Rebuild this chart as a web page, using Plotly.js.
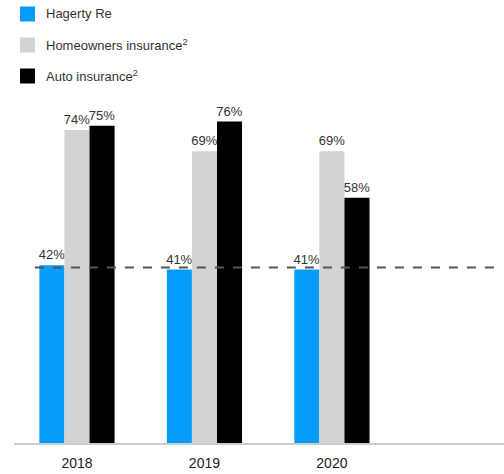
<!DOCTYPE html>
<html><head><meta charset="utf-8">
<script src="https://cdn.plot.ly/plotly-3.0.1.min.js"></script>
<style>html,body{margin:0;padding:0;background:#fff}#chart{width:504px;height:474px}</style>
</head><body><div id="chart"></div>
<script>
const years = ["2018", "2019", "2020"];
const seriesNames = ["Hagerty Re", "Homeowners insurance<sup>2</sup>", "Auto insurance<sup>2</sup>"];
const hagerty = [42, 41, 41];
const homeowners = [74, 69, 69];
const auto = [75, 76, 58];
const refLine = 41.5;
const colors = ["#079CFA", "#D3D3D3", "#000000"];

const W = 504, H = 474, mL = 14, mR = 0, mT = 20, mB = 31;
const pw = W - mL - mR, ph = H - mT - mB;
const px = x => (x - mL) / pw;
const py = y => (H - mB - y) / ph;
const FONT = "Liberation Sans, Arial, sans-serif";

const values = [hagerty, homeowners, auto];
const traces = values.map((v, i) => ({
  type: "bar", x: years, y: v, name: seriesNames[i],
  marker: {color: colors[i], line: {width: 0}},
  text: v.map(d => d + "%"), textposition: "outside", constraintext: "none",
  textfont: {family: FONT, size: 13, color: "#333"},
  cliponaxis: false, showlegend: false, hoverinfo: "skip"
}));

const shapes = [{
  type: "line", xref: "x", yref: "y", x0: -0.33, x1: 3.29, y0: refLine, y1: refLine,
  line: {color: "#555", width: 2, dash: "dash"}
}];
const annotations = [];
const legY = [14, 45, 76];
seriesNames.forEach((n, i) => {
  shapes.push({type: "rect", xref: "paper", yref: "paper",
    x0: px(20), x1: px(35), y0: py(legY[i] - 7.5), y1: py(legY[i] + 7.5),
    fillcolor: colors[i], line: {width: 0}});
  annotations.push({xref: "paper", yref: "paper", x: px(44), y: py(legY[i]),
    xanchor: "left", yanchor: "middle", showarrow: false, text: n,
    font: {family: FONT, size: 13, color: "#333"}});
});

const layout = {
  width: W, height: H, margin: {l: mL, r: mR, t: mT, b: mB},
  paper_bgcolor: "#fff", plot_bgcolor: "#fff",
  barmode: "group", bargap: 0.41, bargroupgap: 0,
  xaxis: {type: "category", range: [-0.494, 3.35], showgrid: false, zeroline: false,
    showline: true, linecolor: "#ccc", linewidth: 2, ticks: "", ticklabelstandoff: 6,
    tickfont: {family: FONT, size: 14, color: "#222"}},
  yaxis: {range: [0, 100], visible: false, showgrid: false, zeroline: false},
  shapes: shapes, annotations: annotations, showlegend: false
};
Plotly.newPlot("chart", traces, layout, {staticPlot: true, displayModeBar: false});
</script></body></html>
